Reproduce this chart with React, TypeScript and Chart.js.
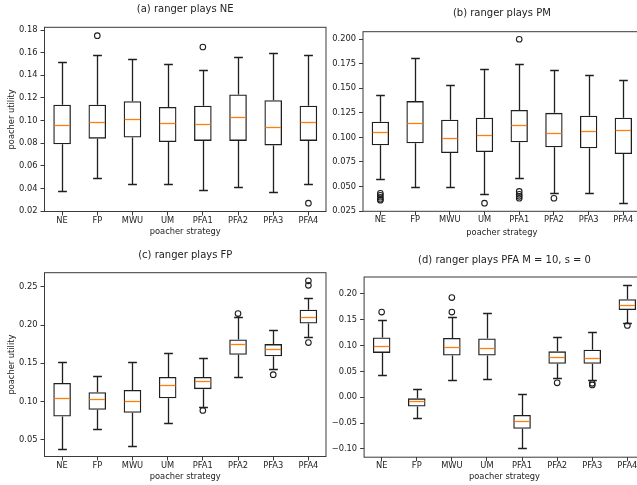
import React, { useEffect, useRef } from 'react';
import { Chart, registerables } from 'chart.js';

Chart.register(...registerables);
Chart.defaults.font.family = "'DejaVu Sans', sans-serif";

const categories = ['NE', 'FP', 'MWU', 'UM', 'PFA1', 'PFA2', 'PFA3', 'PFA4'];

// (a) ranger plays NE
const aLow = [0.038, 0.049, 0.044, 0.044, 0.039, 0.041, 0.037, 0.044];
const aQ1 = [0.079, 0.084, 0.085, 0.081, 0.082, 0.082, 0.078, 0.082];
const aMed = [0.096, 0.099, 0.101, 0.098, 0.097, 0.103, 0.094, 0.099];
const aQ3 = [0.114, 0.114, 0.117, 0.112, 0.113, 0.123, 0.118, 0.113];
const aHigh = [0.152, 0.158, 0.154, 0.150, 0.145, 0.156, 0.160, 0.158];
const aOutCat = ['FP', 'PFA1', 'PFA4'];
const aOutVal = [0.175, 0.165, 0.027];
const aTicks = [0.02, 0.04, 0.06, 0.08, 0.1, 0.12, 0.14, 0.16, 0.18];

// (b) ranger plays PM
const bLow = [0.058, 0.049, 0.049, 0.042, 0.059, 0.043, 0.043, 0.033];
const bQ1 = [0.092, 0.094, 0.084, 0.085, 0.095, 0.090, 0.089, 0.083];
const bMed = [0.105, 0.115, 0.099, 0.102, 0.113, 0.104, 0.107, 0.108];
const bQ3 = [0.116, 0.137, 0.118, 0.120, 0.128, 0.125, 0.122, 0.120];
const bHigh = [0.143, 0.181, 0.153, 0.170, 0.175, 0.169, 0.164, 0.158];
const bOutCat = ['NE', 'NE', 'NE', 'NE', 'NE', 'UM', 'PFA1', 'PFA1', 'PFA1', 'PFA1', 'PFA1', 'PFA2'];
const bOutVal = [0.043, 0.041, 0.039, 0.037, 0.036, 0.033, 0.200, 0.045, 0.042, 0.040, 0.038, 0.038];
const bTicks = [0.025, 0.05, 0.075, 0.1, 0.125, 0.15, 0.175, 0.2];

// (c) ranger plays FP
const cLow = [0.038, 0.064, 0.042, 0.071, 0.093, 0.132, 0.142, 0.184];
const cQ1 = [0.080, 0.089, 0.085, 0.104, 0.116, 0.161, 0.159, 0.202];
const cMed = [0.105, 0.103, 0.100, 0.121, 0.126, 0.175, 0.168, 0.211];
const cQ3 = [0.124, 0.112, 0.115, 0.132, 0.132, 0.181, 0.175, 0.220];
const cHigh = [0.152, 0.133, 0.152, 0.164, 0.157, 0.211, 0.194, 0.235];
const cOutCat = ['PFA1', 'PFA2', 'PFA3', 'PFA4', 'PFA4', 'PFA4'];
const cOutVal = [0.088, 0.215, 0.135, 0.258, 0.252, 0.177];
const cTicks = [0.05, 0.1, 0.15, 0.2, 0.25];

// (d) ranger plays PFA M = 10, s = 0
const dLow = [0.044, -0.040, 0.033, 0.035, -0.099, 0.038, 0.034, 0.144];
const dQ1 = [0.086, -0.018, 0.081, 0.081, -0.061, 0.065, 0.065, 0.169];
const dMed = [0.099, -0.008, 0.098, 0.096, -0.046, 0.078, 0.076, 0.178];
const dQ3 = [0.116, -0.002, 0.115, 0.114, -0.034, 0.089, 0.092, 0.190];
const dHigh = [0.150, 0.017, 0.156, 0.164, 0.006, 0.116, 0.126, 0.217];
const dOutCat = ['NE', 'MWU', 'MWU', 'PFA2', 'PFA3', 'PFA3', 'PFA4'];
const dOutVal = [0.165, 0.193, 0.165, 0.028, 0.027, 0.024, 0.139];
const dTicks = [-0.1, -0.05, 0, 0.05, 0.1, 0.15, 0.2];

type Panel = {
  title: string;
  low: number[]; q1: number[]; med: number[]; q3: number[]; high: number[];
  outCat: string[]; outVal: number[];
  ticks: number[]; decimals: number;
  yMin: number; yMax: number;
  yTitle: boolean;
  pad: { left: number; right: number; top: number; bottom: number };
  yWidth: number; titlePadB: number; xTitlePadB: number;
};

const panels: Panel[] = [
  {
    title: '(a) ranger plays NE', low: aLow, q1: aQ1, med: aMed, q3: aQ3, high: aHigh,
    outCat: aOutCat, outVal: aOutVal, ticks: aTicks, decimals: 2, yMin: 0.0196, yMax: 0.1824, yTitle: true,
    pad: { left: 0, right: 324, top: 3, bottom: 246.5 }, yWidth: 44.5, titlePadB: 12.3, xTitlePadB: 1.8,
  },
  {
    title: '(b) ranger plays PM', low: bLow, q1: bQ1, med: bMed, q3: bQ3, high: bHigh,
    outCat: bOutCat, outVal: bOutVal, ticks: bTicks, decimals: 3, yMin: 0.0247, yMax: 0.2077, yTitle: false,
    pad: { left: 319, right: 9.3, top: 7.3, bottom: 246.7 }, yWidth: 44, titlePadB: 12.4, xTitlePadB: 0.6,
  },
  {
    title: '(c) ranger plays FP', low: cLow, q1: cQ1, med: cMed, q3: cQ3, high: cHigh,
    outCat: cOutCat, outVal: cOutVal, ticks: cTicks, decimals: 2, yMin: 0.0277, yMax: 0.2686, yTitle: true,
    pad: { left: 0, right: 324, top: 249, bottom: 1.5 }, yWidth: 44.5, titlePadB: 11.7, xTitlePadB: 1.2,
  },
  {
    title: '(d) ranger plays PFA M = 10, s = 0', low: dLow, q1: dQ1, med: dMed, q3: dQ3, high: dHigh,
    outCat: dOutCat, outVal: dOutVal, ticks: dTicks, decimals: 2, yMin: -0.1159, yMax: 0.2329, yTitle: false,
    pad: { left: 320, right: 4.7, top: 254, bottom: 0.8 }, yWidth: 44.1, titlePadB: 11, xTitlePadB: 1.9,
  },
];

const TEXT = '#222222';
const LINE = '#1f1f1f';
const FRAME = '#3a3a3a';
const MEDIAN = '#ff7f0e';

const snap = (v: number) => Math.round(v) + 0.5;

function makeBoxPlugin(p: Panel) {
  return {
    id: 'boxWhiskers',
    afterDatasetsDraw(chart: any) {
      const { ctx, chartArea, scales } = chart;
      const x = scales.x;
      const y = scales.y;
      const step = x.getPixelForValue(1) - x.getPixelForValue(0);
      const boxHalf = step * 0.25;
      const capHalf = step * 0.125;
      ctx.save();
      ctx.lineWidth = 1.3;
      ctx.strokeStyle = LINE;
      categories.forEach((_, i) => {
        const cx = snap(x.getPixelForValue(i));
        const yLow = snap(y.getPixelForValue(p.low[i]));
        const yQ1 = y.getPixelForValue(p.q1[i]);
        const yQ3 = y.getPixelForValue(p.q3[i]);
        const yHigh = snap(y.getPixelForValue(p.high[i]));
        ctx.beginPath();
        ctx.moveTo(cx, yQ1);
        ctx.lineTo(cx, yLow);
        ctx.moveTo(cx, yQ3);
        ctx.lineTo(cx, yHigh);
        ctx.moveTo(cx - capHalf, yLow);
        ctx.lineTo(cx + capHalf, yLow);
        ctx.moveTo(cx - capHalf, yHigh);
        ctx.lineTo(cx + capHalf, yHigh);
        ctx.stroke();
      });
      ctx.strokeStyle = MEDIAN;
      ctx.lineWidth = 1.3;
      categories.forEach((_, i) => {
        const cx = x.getPixelForValue(i);
        const ym = snap(y.getPixelForValue(p.med[i]));
        ctx.beginPath();
        ctx.moveTo(cx - boxHalf + 1, ym);
        ctx.lineTo(cx + boxHalf - 1, ym);
        ctx.stroke();
      });
      ctx.strokeStyle = FRAME;
      ctx.lineWidth = 1;
      ctx.strokeRect(chartArea.left, chartArea.top, chartArea.right - chartArea.left, chartArea.bottom - chartArea.top);
      ctx.restore();
    },
  };
}

function fmt(v: number, d: number) {
  return v.toFixed(d).replace('-', '\u2212');
}

function buildConfig(p: Panel): any {
  const outliers = p.outCat.map((c, i) => ({ x: c, y: p.outVal[i] }));
  return {
    type: 'bar',
    data: {
      labels: categories,
      datasets: [
        {
          type: 'bar',
          data: p.q1.map((v, i) => [v, p.q3[i]]),
          backgroundColor: 'rgba(0,0,0,0)',
          borderColor: LINE,
          borderWidth: 1.3,
          borderSkipped: false,
          barPercentage: 0.5,
          categoryPercentage: 1,
        },
        {
          type: 'line',
          data: outliers,
          showLine: false,
          pointStyle: 'circle',
          pointRadius: 2.8,
          pointBorderWidth: 1.1,
          pointBorderColor: LINE,
          pointBackgroundColor: 'rgba(0,0,0,0)',
        },
      ],
    },
    options: {
      responsive: false,
      animation: false,
      devicePixelRatio: 1,
      events: [],
      layout: { padding: p.pad },
      plugins: {
        legend: { display: false },
        tooltip: { enabled: false },
        title: {
          display: true,
          text: p.title,
          fullSize: false,
          color: TEXT,
          font: { size: 10, weight: 'normal' },
          padding: { top: 0, bottom: p.titlePadB },
        },
      },
      scales: {
        x: {
          type: 'category',
          offset: true,
          afterFit: (s: any) => { s.height = 27; },
          ticks: { font: { size: 8.3 }, color: TEXT, padding: 0, autoSkip: false, maxRotation: 0 },
          grid: { offset: false, drawOnChartArea: false, drawTicks: true, tickLength: 4, color: FRAME },
          border: { display: false },
          title: {
            display: true, text: 'poacher strategy', color: TEXT, font: { size: 8.3 },
            padding: { top: 0, bottom: p.xTitlePadB },
          },
        },
        y: {
          type: 'linear',
          min: p.yMin,
          max: p.yMax,
          afterBuildTicks: (s: any) => { s.ticks = p.ticks.map((v) => ({ value: v })); },
          afterFit: (s: any) => { s.width = p.yWidth; },
          ticks: { font: { size: 8.3 }, color: TEXT, padding: 3, callback: (v: any) => fmt(Number(v), p.decimals) },
          grid: { drawOnChartArea: false, drawTicks: true, tickLength: 4, color: FRAME },
          border: { display: false },
          title: {
            display: p.yTitle, text: 'poacher utility', color: TEXT, font: { size: 8.3 },
            padding: { top: 6.7, bottom: 0 },
          },
        },
      },
    },
    plugins: [makeBoxPlugin(p)],
  };
}

function PanelChart({ panel }: { panel: Panel }) {
  const ref = useRef<HTMLCanvasElement | null>(null);
  useEffect(() => {
    if (!ref.current) return;
    const chart = new Chart(ref.current, buildConfig(panel));
    return () => chart.destroy();
  }, [panel]);
  return (
    <canvas
      ref={ref}
      width={650}
      height={485}
      style={{ position: 'absolute', left: 0, top: 0, width: 650, height: 485 }}
    />
  );
}

export default function App() {
  return (
    <div
      style={{
        position: 'absolute', left: 0, top: 0, width: 637, height: 485,
        overflow: 'hidden', background: '#ffffff',
      }}
    >
      {panels.map((p) => (
        <PanelChart key={p.title} panel={p} />
      ))}
    </div>
  );
}
